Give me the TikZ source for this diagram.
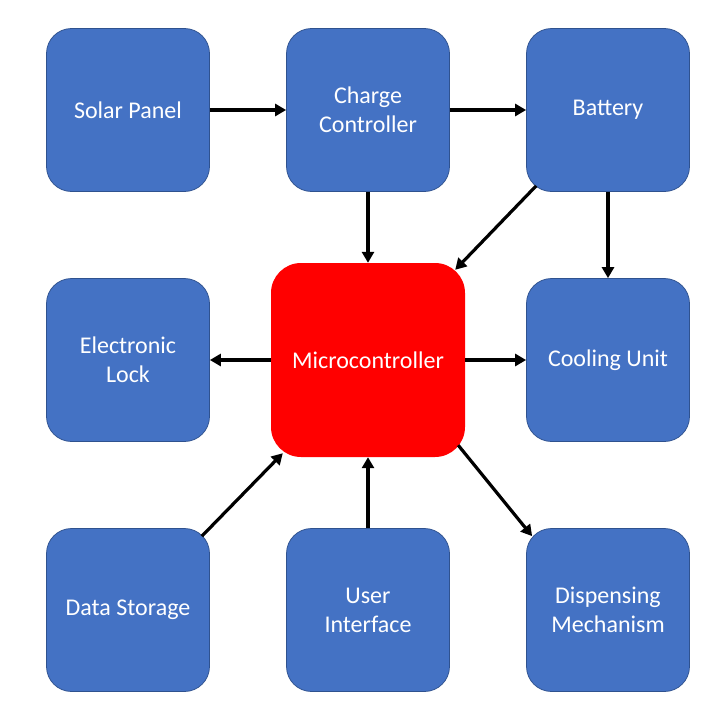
\documentclass[tikz,border=0pt]{standalone}
\usepackage{fontspec}
\setmainfont{Carlito}
\usetikzlibrary{arrows.meta}
\definecolor{boxblue}{HTML}{4472C4}
\definecolor{boxedge}{HTML}{2F528F}
\tikzset{
	block/.style={draw=boxedge, line width=0.75pt, fill=boxblue, rounded corners=25pt, minimum size=163pt, align=center, text=white, font=\fontsize{24}{29}\selectfont},
	mcu/.style={fill=red, rounded corners=30pt, minimum size=194pt, align=center, text=white, font=\fontsize{24}{29}\selectfont},
	link/.style={line width=3.2pt, -{Triangle[length=11pt,width=12pt]}}
}
\begin{document}
\begin{tikzpicture}[x=1pt,y=-1pt]
				\useasboundingbox[fill=white] (0,0) rectangle (720,720);
				\node[block] (solar) at (128,110) {Solar Panel};
				\node[block] (charge) at (368,110) {Charge\\Controller};
				\node[block] (battery) at (608,110) {Battery};
				\node[block] (lock) at (128,360) {Electronic\\Lock};
				\node[mcu] (micro) at (368,360) {Microcontroller};
				\node[block] (cooling) at (608,360) {Cooling Unit};
				\node[block] (storage) at (128,610) {Data Storage};
				\node[block] (ui) at (368,610) {User\\Interface};
				\node[block] (dispense) at (608,610) {Dispensing\\Mechanism};
				\draw[link] (solar) -- (charge);
				\draw[link] (charge) -- (battery);
				\draw[link] (charge) -- (micro);
				\draw[link] (battery) -- (cooling);
				\draw[link] ([shift={(10pt,6pt)}]battery.south west) -- ([shift={(-10pt,-7pt)}]micro.north east);
				\draw[link] (micro) -- (lock);
				\draw[link] (micro) -- (cooling);
				\draw[link] ([shift={(-8pt,-8pt)}]storage.north east) -- ([shift={(12pt,4pt)}]micro.south west);
				\draw[link] (ui) -- (micro);
				\draw[link] ([shift={(-7pt,12pt)}]micro.south east) -- ([shift={(6pt,-8pt)}]dispense.north west);
			\end{tikzpicture}
\end{document}
